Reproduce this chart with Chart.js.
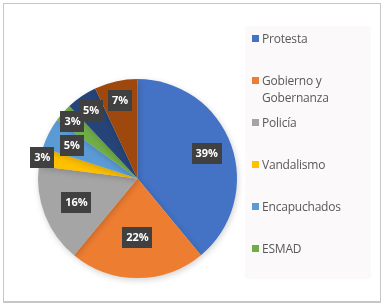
<!DOCTYPE html>
<html>
<head>
<meta charset="utf-8">
<script src="https://cdn.jsdelivr.net/npm/chart.js@4/dist/chart.umd.min.js"></script>
<style>
  html, body { margin: 0; padding: 0; background: #fff; }
  #frame {
    position: absolute; left: 3px; top: 3px; width: 376px; height: 297px;
    border: 1px solid #c6c6c6; border-bottom-width: 2px; background: #fff;
  }
  #pieBox { position: absolute; left: 18px; top: 59px; width: 239px; height: 239px; }
  #legendPanel {
    position: absolute; left: 245px; top: 26px; width: 126px; height: 253px;
    background: #fbf9f9;
  }
  .item {
    position: absolute; left: 7px; font-family: "Open Sans", "Noto Sans", sans-serif;
    font-size: 12px; line-height: 17px; color: #595959; letter-spacing: -0.2px;
  }
  .item .sw { position: absolute; left: 0; top: 5px; width: 7px; height: 7px; }
  .item .tx { display: block; margin-left: 10px; width: 110px; }
</style>
</head>
<body>
<div id="frame"></div>
<div id="pieBox"><canvas id="pie"></canvas></div>
<div id="legendPanel"></div>
<script>
// categorías y porcentajes (las dos últimas no aparecen en la leyenda)
const labels = ['Protesta', 'Gobierno y Gobernanza', 'Policía', 'Vandalismo', 'Encapuchados', 'ESMAD', 'Otros actores', 'Otros'];
const values = [39, 22, 16, 3, 5, 3, 5, 7];
const colors = ['#4472c4', '#ed7d31', '#a5a5a5', '#ffc000', '#5b9bd5', '#70ad47', '#264478', '#9e480e'];
const legendCount = 6;

// distancia de la etiqueta al centro (fracción del radio)
const labelRadius = [0.74, 0.59, 0.66, 0.98, 0.74, 0.87, 0.83, 0.80];

// leyenda HTML
const panel = document.getElementById('legendPanel');
labels.slice(0, legendCount).forEach((name, i) => {
  const div = document.createElement('div');
  div.className = 'item';
  div.style.top = (38 + 42 * i - 26 - 8.5) + 'px';
  div.innerHTML = `<span class="sw" style="background:${colors[i]}"></span><span class="tx">${name}</span>`;
  panel.appendChild(div);
});

// etiquetas de datos en cajas oscuras
const boxLabels = {
  id: 'boxLabels',
  afterDatasetsDraw(chart) {
    const ctx = chart.ctx;
    const meta = chart.getDatasetMeta(0);
    ctx.save();
    ctx.font = 'bold 11px "Open Sans", "Noto Sans", sans-serif';
    ctx.textAlign = 'center';
    ctx.textBaseline = 'middle';
    meta.data.forEach((arc, i) => {
      const mid = (arc.startAngle + arc.endAngle) / 2;
      const r = arc.outerRadius * labelRadius[i];
      const x = arc.x + Math.cos(mid) * r;
      const y = arc.y + Math.sin(mid) * r;
      const txt = values[i] + '%';
      const w = ctx.measureText(txt).width + 8;
      const h = 21;
      ctx.fillStyle = '#404040';
      ctx.fillRect(Math.round(x - w / 2), Math.round(y - h / 2), Math.round(w), h);
      ctx.fillStyle = '#ffffff';
      ctx.fillText(txt, x, y + 0.5);
    });
    ctx.restore();
  }
};

const shadow = {
  id: 'shadow',
  beforeDatasetsDraw(chart) {
    chart.ctx.save();
    chart.ctx.shadowColor = 'rgba(0,0,0,0.18)';
    chart.ctx.shadowBlur = 6;
    chart.ctx.shadowOffsetX = 1;
    chart.ctx.shadowOffsetY = 2;
  },
  afterDatasetsDraw(chart) {
    chart.ctx.restore();
  }
};

new Chart(document.getElementById('pie').getContext('2d'), {
  type: 'pie',
  data: {
    labels: labels,
    datasets: [{
      data: values,
      backgroundColor: colors,
      borderWidth: 0
    }]
  },
  options: {
    responsive: true,
    maintainAspectRatio: false,
    animation: false,
    layout: { padding: 20 },
    plugins: {
      legend: { display: false },
      tooltip: { enabled: false }
    }
  },
  plugins: [shadow, boxLabels]
});
</script>
</body>
</html>
